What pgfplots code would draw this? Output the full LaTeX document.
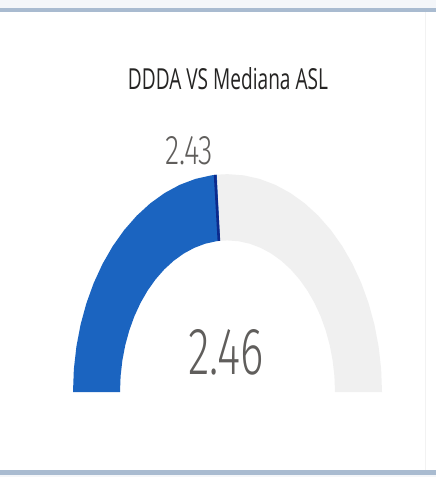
\documentclass[border=0pt]{standalone}
\usepackage{pgfplots}
\pgfplotsset{compat=1.18}
\usepackage{graphicx}
\usepackage{fontspec}
\setmainfont{Open Sans}
\newfontfamily\numfont{Fira Sans Light}
\definecolor{gblue}{HTML}{1B64C0}
\definecolor{gnavy}{HTML}{0C2A8C}
\definecolor{ggray}{HTML}{F0F0F0}
\definecolor{frame}{HTML}{A9BBD0}
\definecolor{topbg}{HTML}{F4F6F9}
\definecolor{numgray}{HTML}{605E5C}
\definecolor{titlec}{HTML}{252423}
\begin{document}
\begin{tikzpicture}
\fill[white] (0pt,0pt) rectangle (436pt,477pt);
\fill[topbg] (0pt,469pt) rectangle (436pt,477pt);
\fill[frame] (0pt,464.5pt) rectangle (436pt,469pt);
\fill[frame] (0pt,2pt) rectangle (436pt,7pt);
\fill[topbg] (0pt,0pt) rectangle (436pt,2pt);
\fill[black!5] (424.5pt,7pt) rectangle (425.5pt,464.5pt);
\begin{axis}[at={(0pt,0pt)},anchor=south west,scale only axis,
  width=436pt,height=477pt,
  xmin=-227.5,xmax=208.5,ymin=-60.28,ymax=278.02,
  axis lines=none,ticks=none,clip=false]
% gray background arc (min .. max -> 180 .. 0 deg)
\addplot[data cs=polar,fill=ggray,draw=none] coordinates {
(94,154.5)(90,154.5)(84,154.5)(78,154.5)(72,154.5)(66,154.5)(60,154.5)(54,154.5)(48,154.5)(42,154.5)(36,154.5)(30,154.5)(24,154.5)(18,154.5)(12,154.5)(6,154.5)(0,154.5)
(0,107.5)(6,107.5)(12,107.5)(18,107.5)(24,107.5)(30,107.5)(36,107.5)(42,107.5)(48,107.5)(54,107.5)(60,107.5)(66,107.5)(72,107.5)(78,107.5)(84,107.5)(90,107.5)(94,107.5)
} -- cycle;
% value arc 2.46 -> 180 .. 94 deg
\addplot[data cs=polar,fill=gblue,draw=none] coordinates {
(180,154.5)(174,154.5)(168,154.5)(162,154.5)(156,154.5)(150,154.5)(144,154.5)(138,154.5)(132,154.5)(126,154.5)(120,154.5)(114,154.5)(108,154.5)(102,154.5)(96,154.5)(94,154.5)
(94,107.5)(96,107.5)(102,107.5)(108,107.5)(114,107.5)(120,107.5)(126,107.5)(132,107.5)(138,107.5)(144,107.5)(150,107.5)(156,107.5)(162,107.5)(168,107.5)(174,107.5)(180,107.5)
} -- cycle;
% target 2.43
\addplot[data cs=polar,draw=gnavy,line width=2.6pt] coordinates {(94.6,107.5)(94.6,154.5)};
\end{axis}
\node[anchor=base,inner sep=0pt,text=titlec] at (228pt,387pt) {\resizebox{200pt}{22pt}{DDDA VS Mediana ASL}};
\node[anchor=base,inner sep=0pt,text=numgray] at (189pt,312pt) {\resizebox{48pt}{28pt}{\numfont 2.43}};
\node[anchor=base,inner sep=0pt,text=numgray] at (226pt,102pt) {\resizebox{75pt}{45pt}{\numfont 2.46}};
\pgfresetboundingbox
\path (0pt,0pt) rectangle (436pt,477pt);
\end{tikzpicture}
\end{document}
